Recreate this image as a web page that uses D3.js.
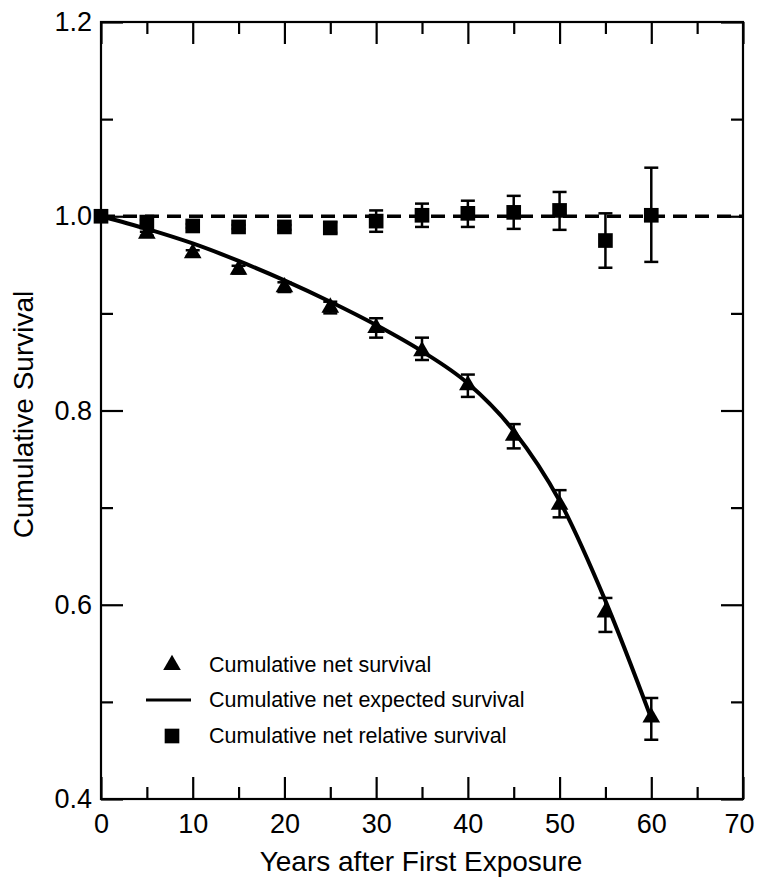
<!DOCTYPE html>
<html>
<head>
<meta charset="utf-8">
<script src="https://cdn.jsdelivr.net/npm/d3@7"></script>
<style>
  html, body { margin: 0; padding: 0; background: #fff; }
  svg { display: block; }
  text { font-family: "Liberation Sans", Arial, Helvetica, sans-serif; fill: #000; }
</style>
</head>
<body>
<svg id="chart" width="757" height="881"></svg>
<script>
// ---- data ----
const xTicks = [0, 10, 20, 30, 40, 50, 60, 70];
const yTicks = [0.4, 0.6, 0.8, 1.0, 1.2];
const yTickLabels = ["0.4", "0.6", "0.8", "1.0", "1.2"];

const netYears = [5, 10, 15, 20, 25, 30, 35, 40, 45, 50, 55, 60];
const netSurvival = [0.982, 0.962, 0.945, 0.927, 0.906, 0.885, 0.861, 0.826, 0.774, 0.703, 0.592, 0.484];
const netLow  = [0.980, 0.959, 0.941, 0.922, 0.900, 0.875, 0.852, 0.814, 0.761, 0.690, 0.572, 0.461];
const netHigh = [0.984, 0.965, 0.949, 0.932, 0.912, 0.895, 0.875, 0.837, 0.786, 0.718, 0.607, 0.504];

const expYears = [0, 5, 10, 15, 20, 25, 30, 35, 40, 45, 50, 55, 60];
const expectedSurvival = [1.000, 0.987, 0.972, 0.954, 0.934, 0.912, 0.888, 0.861, 0.828, 0.779, 0.707, 0.604, 0.483];

const relYears = [0, 5, 10, 15, 20, 25, 30, 35, 40, 45, 50, 55, 60];
const relSurvival = [1.000, 0.994, 0.990, 0.989, 0.989, 0.988, 0.995, 1.001, 1.003, 1.004, 1.006, 0.975, 1.001];
const relLow  = [1.000, 0.992, 0.988, 0.987, 0.986, 0.983, 0.984, 0.989, 0.989, 0.987, 0.986, 0.947, 0.953];
const relHigh = [1.000, 0.996, 0.992, 0.991, 0.991, 0.994, 1.006, 1.013, 1.016, 1.021, 1.025, 1.003, 1.050];

const referenceLevel = [1.0];

const legendLabels = ["Cumulative net survival", "Cumulative net expected survival", "Cumulative net relative survival"];

// ---- layout ----
const svg = d3.select("#chart");
const L = 101, R = 743, T = 22, B = 799;
const x = d3.scaleLinear().domain([0, 70]).range([L, R]);
const y = d3.scaleLinear().domain([0.4, 1.2]).range([B, T]);

const MAJ = 22, MIN = 12;
const xMinor = d3.range(5, 70, 10);
const yMinor = [0.5, 0.7, 0.9, 1.1];
const SW = 2.2;

// frame
svg.append("rect").attr("x", L).attr("y", T).attr("width", R - L).attr("height", B - T)
  .attr("fill", "none").attr("stroke", "#000").attr("stroke-width", 2.2);

function styleTicks(g) { g.select(".domain").remove(); g.selectAll("line").attr("stroke-width", SW); }

// bottom axis
const bottom = svg.append("g").attr("transform", `translate(0,${B})`)
  .call(d3.axisBottom(x).tickValues(xTicks).tickSizeInner(-MAJ).tickSizeOuter(0).tickPadding(15).tickFormat(d3.format("d")))
  .call(styleTicks);
bottom.selectAll("text").attr("font-size", 27).attr("fill", "#000")
  .attr("dx", d => d === 70 ? -4 : 0);
svg.append("g").attr("transform", `translate(0,${B})`)
  .call(d3.axisBottom(x).tickValues(xMinor).tickSizeInner(-MIN).tickSizeOuter(0).tickFormat(""))
  .call(styleTicks);

// top axis
svg.append("g").attr("transform", `translate(0,${T})`)
  .call(d3.axisTop(x).tickValues(xTicks).tickSizeInner(-MAJ).tickSizeOuter(0).tickFormat(""))
  .call(styleTicks);
svg.append("g").attr("transform", `translate(0,${T})`)
  .call(d3.axisTop(x).tickValues(xMinor).tickSizeInner(-MIN).tickSizeOuter(0).tickFormat(""))
  .call(styleTicks);

// left axis
const left = svg.append("g").attr("transform", `translate(${L},0)`)
  .call(d3.axisLeft(y).tickValues(yTicks).tickSizeInner(-MAJ).tickSizeOuter(0).tickPadding(9)
    .tickFormat((d, i) => yTickLabels[i]))
  .call(styleTicks);
left.selectAll("text").attr("font-size", 27).attr("fill", "#000");
svg.append("g").attr("transform", `translate(${L},0)`)
  .call(d3.axisLeft(y).tickValues(yMinor).tickSizeInner(-MIN).tickSizeOuter(0).tickFormat(""))
  .call(styleTicks);

// right axis
svg.append("g").attr("transform", `translate(${R},0)`)
  .call(d3.axisRight(y).tickValues(yTicks).tickSizeInner(-MAJ).tickSizeOuter(0).tickFormat(""))
  .call(styleTicks);
svg.append("g").attr("transform", `translate(${R},0)`)
  .call(d3.axisRight(y).tickValues(yMinor).tickSizeInner(-MIN).tickSizeOuter(0).tickFormat(""))
  .call(styleTicks);

// axis titles
svg.append("text").attr("x", (L + R) / 2 - 1).attr("y", 871).attr("text-anchor", "middle")
  .attr("font-size", 28).text("Years after First Exposure");
svg.append("text").attr("transform", `translate(33,${(T + B) / 2 + 4}) rotate(-90)`)
  .attr("text-anchor", "middle").attr("font-size", 28).text("Cumulative Survival");

// reference dashed line at 1.0
svg.selectAll(".ref").data(referenceLevel).join("line")
  .attr("x1", x(0)).attr("x2", x(70)).attr("y1", d => y(d)).attr("y2", d => y(d))
  .attr("stroke", "#000").attr("stroke-width", 3.5).attr("stroke-dasharray", "14,8");

// expected survival curve
const lineGen = d3.line().x(d => x(d[0])).y(d => y(d[1])).curve(d3.curveMonotoneX);
svg.append("path").datum(expYears.map((v, i) => [v, expectedSurvival[i]]))
  .attr("d", lineGen).attr("fill", "none").attr("stroke", "#000").attr("stroke-width", 4);

// error bars
function errorBars(xs, lo, hi) {
  const g = svg.append("g").attr("stroke", "#000").attr("stroke-width", 2.5);
  const data = xs.map((v, i) => ({ x: v, lo: lo[i], hi: hi[i] })).filter(d => d.hi > d.lo);
  const cap = 7;
  g.selectAll(".v").data(data).join("line").attr("class", "v")
    .attr("x1", d => x(d.x)).attr("x2", d => x(d.x)).attr("y1", d => y(d.lo)).attr("y2", d => y(d.hi));
  g.selectAll(".lo").data(data).join("line").attr("class", "lo")
    .attr("x1", d => x(d.x) - cap).attr("x2", d => x(d.x) + cap).attr("y1", d => y(d.lo)).attr("y2", d => y(d.lo));
  g.selectAll(".hi").data(data).join("line").attr("class", "hi")
    .attr("x1", d => x(d.x) - cap).attr("x2", d => x(d.x) + cap).attr("y1", d => y(d.hi)).attr("y2", d => y(d.hi));
}
errorBars(netYears, netLow, netHigh);
errorBars(relYears, relLow, relHigh);

// markers
const tri = d3.symbol().type(d3.symbolTriangle).size(135);
const sq = d3.symbol().type(d3.symbolSquare).size(215);
svg.append("g").selectAll("path").data(netYears.map((v, i) => [v, netSurvival[i]])).join("path")
  .attr("d", tri).attr("transform", d => `translate(${x(d[0])},${y(d[1])})`).attr("fill", "#000");
svg.append("g").selectAll("path").data(relYears.map((v, i) => [v, relSurvival[i]])).join("path")
  .attr("d", sq).attr("transform", d => `translate(${x(d[0])},${y(d[1])})`).attr("fill", "#000");

// legend
const lg = svg.append("g");
const lx = 172, tx = 209, rows = [665, 700, 736];
lg.append("path").attr("d", tri).attr("transform", `translate(${lx},${rows[0]})`).attr("fill", "#000");
lg.append("line").attr("x1", lx - 26).attr("x2", lx + 19).attr("y1", rows[1]).attr("y2", rows[1])
  .attr("stroke", "#000").attr("stroke-width", 3);
lg.append("path").attr("d", sq).attr("transform", `translate(${lx},${rows[2]})`).attr("fill", "#000");
lg.selectAll("text").data(legendLabels).join("text")
  .attr("x", tx).attr("y", (d, i) => rows[i] + 7).attr("font-size", 21.5).text(d => d);
</script>
</body>
</html>
